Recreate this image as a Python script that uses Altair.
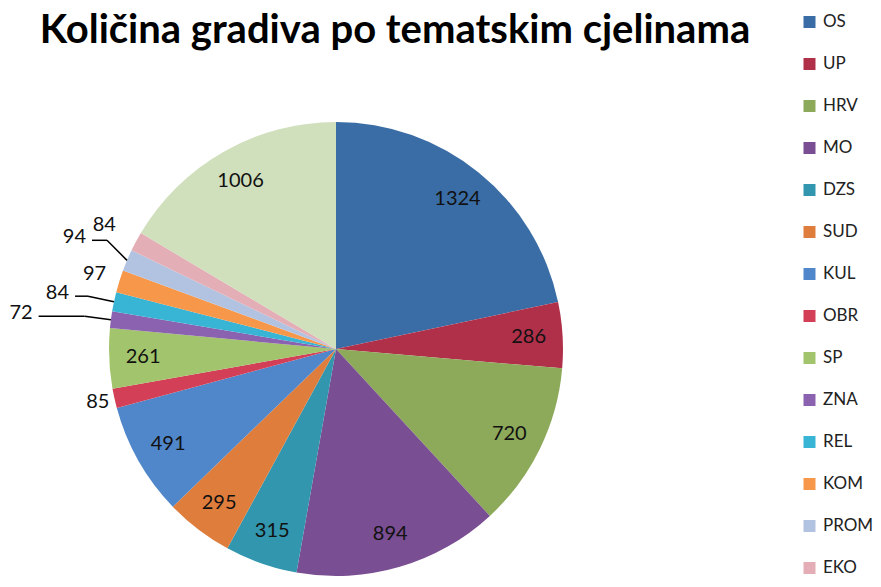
import altair as alt
import pandas as pd

categories = ["OS", "UP", "HRV", "MO", "DZS", "SUD", "KUL", "OBR", "SP", "ZNA",
              "REL", "KOM", "PROM", "EKO", "Ostalo"]
values = [1324, 286, 720, 894, 315, 295, 491, 85, 261, 72, 84, 97, 94, 84, 1006]
colors = ["#3A6DA5", "#B0304A", "#8DA95A", "#7A4E92", "#3196AE", "#DF7D3D",
          "#5087CA", "#D33F56", "#A2C46C", "#8B62AF", "#38B4D4", "#F7974A",
          "#B2C3E2", "#E4AEB6", "#D0DFBC"]
legend_items = categories[:14]
title_text = "Količina gradiva po tematskim cjelinama"

df = pd.DataFrame({"cat": categories, "value": values, "idx": list(range(len(values)))})

CX, CY, R = 328, 341, 227

base = (
    alt.Chart(df)
    .transform_joinaggregate(total="sum(value)")
    .transform_window(cum="sum(value)", sort=[alt.SortField("idx")], frame=[None, 0])
    .transform_calculate(mid="(datum.cum - datum.value/2) / datum.total * 2 * PI")
)

pie = alt.Chart(df).mark_arc(outerRadius=R).encode(
    theta=alt.Theta("value:Q", stack=True),
    order=alt.Order("idx:Q"),
    color=alt.Color(
        "cat:N",
        scale=alt.Scale(domain=categories, range=colors),
        legend=alt.Legend(
            values=legend_items, title=None, orient="none", legendX=793, legendY=5.5,
            symbolType="square", symbolSize=144, symbolStrokeWidth=0,
            labelFont="Lato", labelFontSize=17, labelColor="#222222",
            labelOffset=5, rowPadding=24.0, padding=0,
        ),
    ),
    x=alt.value(CX),
    y=alt.value(CY),
)

lr_expr = ("datum.value >= 200 ? 193 : datum.cat == 'OBR' ? 244 : "
           "datum.cat == 'KOM' ? 253 : datum.cat == 'EKO' ? 263 : 0")

labels = (
    base.transform_calculate(lr=lr_expr)
    .transform_filter("datum.lr > 0")
    .transform_calculate(
        lx=f"{CX} + sin(datum.mid) * datum.lr",
        ly=f"{CY} - cos(datum.mid) * datum.lr",
    )
    .mark_text(font="Lato", fontSize=20, color="#111111", align="center", baseline="middle")
    .encode(
        x=alt.X("lx:Q", scale=None),
        y=alt.Y("ly:Q", scale=None),
        text=alt.Text("value:Q"),
    )
)

lined = (
    base.transform_filter(alt.FieldOneOfPredicate(field="cat", oneOf=["ZNA", "REL", "PROM"]))
    .transform_calculate(
        ea="datum.mid + (datum.cat == 'PROM' ? 0.042 : 0)",
        seg="datum.cat == 'ZNA' ? 46 : datum.cat == 'REL' ? 13 : 15",
    )
    .transform_calculate(
        x0=f"{CX} + sin(datum.mid) * {R}",
        y0=f"{CY} - cos(datum.mid) * {R}",
        x1=f"{CX} + sin(datum.ea) * 253.5",
        y1=f"{CY} - cos(datum.ea) * 253.5",
    )
    .transform_calculate(x2="datum.x1 - datum.seg")
)

lead1 = lined.mark_rule(color="#000000", strokeWidth=1.5).encode(
    x=alt.X("x0:Q", scale=None), y=alt.Y("y0:Q", scale=None),
    x2="x1:Q", y2="y1:Q",
)
lead2 = lined.mark_rule(color="#000000", strokeWidth=1.5).encode(
    x=alt.X("x1:Q", scale=None), y=alt.Y("y1:Q", scale=None),
    x2="x2:Q", y2="y1:Q",
)
lead_text = lined.mark_text(
    font="Lato", fontSize=20, color="#111111", align="right", baseline="middle", dx=-6, dy=-3
).encode(
    x=alt.X("x2:Q", scale=None), y=alt.Y("y1:Q", scale=None), text=alt.Text("value:Q"),
)

title = alt.Chart(df).transform_filter("datum.idx == 0").mark_text(
    text=title_text, font="Lato", fontSize=40, fontWeight="bold", color="#000000",
    align="center", baseline="alphabetic",
).encode(x=alt.value(387), y=alt.value(35))

chart = (
    alt.layer(pie, labels, lead1, lead2, lead_text, title)
    .properties(
        width=865, height=571,
        autosize=alt.AutoSizeParams(type="none"),
        padding=0,
        background="white",
    )
    .configure_view(stroke=None)
)

chart.save("out.html", embed_options={"renderer": "svg", "actions": False})
